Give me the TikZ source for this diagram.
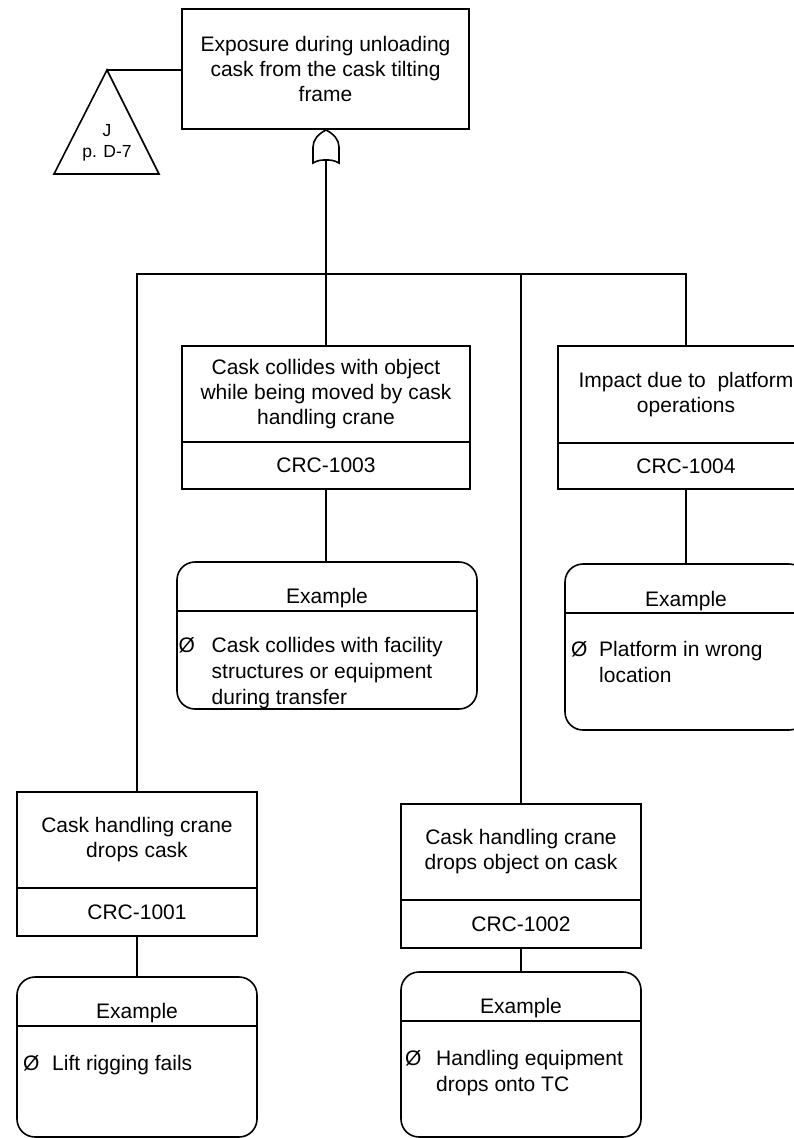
\documentclass[tikz,border=0pt]{standalone}
\usepackage{fontspec}
\setmainfont{Liberation Sans}
\begin{document}
\begin{tikzpicture}[x=1pt,y=-1pt,
  every node/.style={font=\fontsize{21}{25}\selectfont},
  lw/.style={line width=1.6pt},
  conn/.style={line width=1.6pt},
  evt/.style={draw, line width=1.6pt, inner sep=0pt, align=center},
  expl/.style={draw, line width=1.6pt, rounded corners=18pt, inner sep=0pt},
  body/.style={anchor=north west, inner sep=0pt, align=left, font=\fontsize{21}{26}\selectfont},
  bul/.style={anchor=base west, inner sep=0pt},
  hd/.style={anchor=base, inner sep=0pt}
]
\useasboundingbox (0,0) rectangle (794,1138);

% top event
\node[evt, minimum width=287pt, minimum height=120pt] (top) at (325.5,69)
  {Exposure during unloading\\cask from the cask tilting\\frame};

% transfer-in triangle
\coordinate (xfer) at (107,70);
\draw[lw, line join=miter] (xfer) -- (159,174) -- (54,174) -- cycle;
\node[align=center, inner sep=0pt, font=\fontsize{17.5}{21.5}\selectfont] (xferlbl) at (107,143) {J\\p. D-7};
\draw[conn] (xfer) -- (top.west |- xfer);

% OR gate
\draw[lw] (326,130) .. controls (334,134) and (339,140) .. (339,147) -- (339,163)
  .. controls (334,160) and (330,160) .. (326,160)
  .. controls (322,160) and (318,160) .. (313,163) -- (313,147)
  .. controls (313,140) and (318,134) .. (326,130) -- cycle;
\coordinate (gout) at (326,160);

% intermediate events
\node[evt, minimum width=288pt, minimum height=96pt] (t3) at (326,394)
  {Cask collides with object\\while being moved by cask\\handling crane};
\node[evt, minimum width=288pt, minimum height=47pt] (c3) at (326,465.5) {CRC-1003};

\node[evt, minimum width=256pt, minimum height=97pt] (t4) at (686,394.5)
  {Impact due to\ \ platform\\operations};
\node[evt, minimum width=256pt, minimum height=46pt] (c4) at (686,466) {CRC-1004};

\node[evt, minimum width=240pt, minimum height=96pt] (t1) at (137,840)
  {Cask handling crane\\drops cask};
\node[evt, minimum width=240pt, minimum height=48pt] (c1) at (137,912) {CRC-1001};

\node[evt, minimum width=240pt, minimum height=96pt] (t2) at (521,852)
  {Cask handling crane\\drops object on cask};
\node[evt, minimum width=240pt, minimum height=48pt] (c2) at (521,924) {CRC-1002};

% example boxes
\node[expl, minimum width=300pt, minimum height=147pt] (e3) at (327,635.5) {};
\draw[conn] (e3.west |- 0,611) -- (e3.east |- 0,611);
\node[hd] (e3h) at (327,603) {Example};
\node[bul] (e3b) at (178.5,652) {Ø};
\node[body] (e3t) at (211.5,636.7) {Cask collides with facility\\structures or equipment\\during transfer};

\node[expl, minimum width=242pt, minimum height=166pt] (e4) at (686,647) {};
\draw[conn] (e4.west |- 0,613) -- (e4.east |- 0,613);
\node[hd] (e4h) at (686,606) {Example};
\node[bul] (e4b) at (571,656.7) {Ø};
\node[body] (e4t) at (599,641.4) {Platform in wrong\\location};

\node[expl, minimum width=240pt, minimum height=160pt] (e1) at (137,1057) {};
\draw[conn] (e1.west |- 0,1026) -- (e1.east |- 0,1026);
\node[hd] (e1h) at (137,1018) {Example};
\node[bul] (e1b) at (23,1070) {Ø};
\node[body] (e1t) at (52,1054.7) {Lift rigging fails};

\node[expl, minimum width=240pt, minimum height=165pt] (e2) at (521,1054.5) {};
\draw[conn] (e2.west |- 0,1021) -- (e2.east |- 0,1021);
\node[hd] (e2h) at (521,1013) {Example};
\node[bul] (e2b) at (405,1065) {Ø};
\node[body] (e2t) at (436,1049.7) {Handling equipment\\drops onto TC};

% connectors
\coordinate (bus) at (0,274);
\draw[conn] (t1.north) -- (t1.north |- bus) -- (t4.north |- bus) -- (t4.north);
\draw[conn] (t2.north |- bus) -- (t2.north);
\draw[conn] (gout) -- (t3.north);
\draw[conn] (c3.south) -- (c3.south |- e3.north);
\draw[conn] (c4.south) -- (e4.north);
\draw[conn] (c1.south) -- (e1.north);
\draw[conn] (c2.south) -- (e2.north);
\end{tikzpicture}
\end{document}
